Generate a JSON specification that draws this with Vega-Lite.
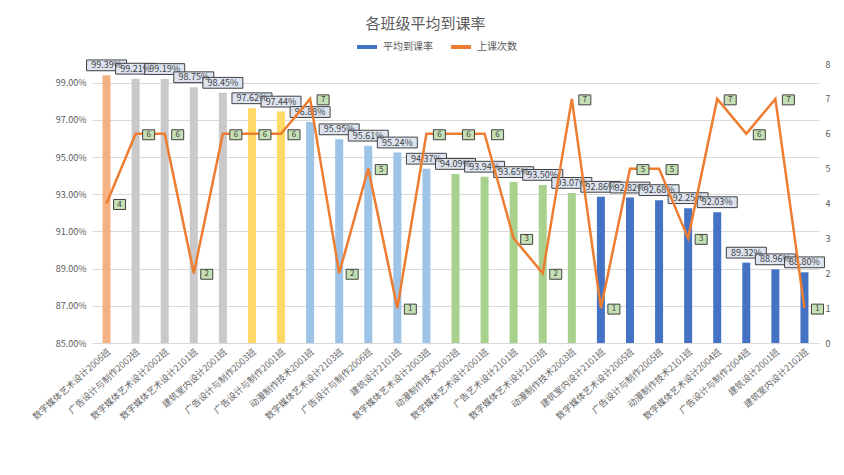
{
  "$schema": "https://vega.github.io/schema/vega-lite/v6.json",
  "autosize": {"type": "none"},
  "width": 727,
  "height": 279,
  "padding": {"left": 92, "top": 64, "right": 25, "bottom": 132},
  "background": "#ffffff",
  "title": {"text": "各班级平均到课率", "fontSize": 15, "fontWeight": "normal", "color": "#595959", "font": "Noto Sans CJK SC", "anchor": "middle", "dx": -30, "offset": 26, "dy": 23},
  "config": {
    "font": "Noto Sans CJK SC",
    "view": {"stroke": null},
    "axis": {"labelFont": "Noto Sans CJK SC", "labelColor": "#595959", "labelFontSize": 9, "ticks": false, "title": null},
    "legend": {"labelFont": "Noto Sans CJK SC", "labelColor": "#595959", "labelFontSize": 10}
  },
  "data": {"values": [
    {"班级": "数字媒体艺术设计2006班", "到课率": 0.9939, "上课次数": 4, "组": "A"},
    {"班级": "广告设计与制作2002班", "到课率": 0.9921, "上课次数": 6, "组": "B"},
    {"班级": "数字媒体艺术设计2002班", "到课率": 0.9919, "上课次数": 6, "组": "B"},
    {"班级": "数字媒体艺术设计2101班", "到课率": 0.9875, "上课次数": 2, "组": "B"},
    {"班级": "建筑室内设计2001班", "到课率": 0.9845, "上课次数": 6, "组": "B"},
    {"班级": "广告设计与制作2003班", "到课率": 0.9762, "上课次数": 6, "组": "C"},
    {"班级": "广告设计与制作2001班", "到课率": 0.9744, "上课次数": 6, "组": "C"},
    {"班级": "动漫制作技术2001班", "到课率": 0.9688, "上课次数": 7, "组": "D"},
    {"班级": "数字媒体艺术设计2103班", "到课率": 0.9595, "上课次数": 2, "组": "D"},
    {"班级": "广告设计与制作2006班", "到课率": 0.9561, "上课次数": 5, "组": "D"},
    {"班级": "建筑设计2101班", "到课率": 0.9524, "上课次数": 1, "组": "D"},
    {"班级": "数字媒体艺术设计2003班", "到课率": 0.9437, "上课次数": 6, "组": "D"},
    {"班级": "动漫制作技术2002班", "到课率": 0.9409, "上课次数": 6, "组": "E"},
    {"班级": "数字媒体艺术设计2001班", "到课率": 0.9394, "上课次数": 6, "组": "E"},
    {"班级": "广告艺术设计2101班", "到课率": 0.9365, "上课次数": 3, "组": "E"},
    {"班级": "数字媒体艺术设计2102班", "到课率": 0.9350, "上课次数": 2, "组": "E"},
    {"班级": "动漫制作技术2003班", "到课率": 0.9307, "上课次数": 7, "组": "E"},
    {"班级": "建筑室内设计2101班", "到课率": 0.9286, "上课次数": 1, "组": "F"},
    {"班级": "数字媒体艺术设计2005班", "到课率": 0.9282, "上课次数": 5, "组": "F"},
    {"班级": "广告设计与制作2005班", "到课率": 0.9268, "上课次数": 5, "组": "F"},
    {"班级": "动漫制作技术2101班", "到课率": 0.9225, "上课次数": 3, "组": "F"},
    {"班级": "数字媒体艺术设计2004班", "到课率": 0.9203, "上课次数": 7, "组": "F"},
    {"班级": "广告设计与制作2004班", "到课率": 0.8932, "上课次数": 6, "组": "F"},
    {"班级": "建筑设计2001班", "到课率": 0.8896, "上课次数": 7, "组": "F"},
    {"班级": "建筑室内设计2102班", "到课率": 0.8880, "上课次数": 1, "组": "F"}
  ]},
  "encoding": {
    "x": {"field": "班级", "type": "nominal", "sort": null,
      "scale": {"paddingInner": 0.7, "paddingOuter": 0.35},
      "axis": {"labelAngle": -42, "domainColor": "#d9d9d9", "labelPadding": 4, "grid": false, "labelFontSize": 9, "labelColor": "#666666"}}
  },
  "layer": [
    {
      "encoding": {
        "y": {"field": "到课率", "type": "quantitative",
          "scale": {"domain": [0.85, 1.0], "zero": false, "nice": false},
          "axis": {"values": [0.85, 0.87, 0.89, 0.91, 0.93, 0.95, 0.97, 0.99], "format": ".2%", "grid": true, "gridColor": "#d9d9d9", "domain": false, "labelPadding": 6}}
      },
      "layer": [
        {"mark": {"type": "bar", "size": 8},
         "encoding": {
           "y2": {"datum": 0.85},
           "color": {"field": "组", "type": "nominal", "legend": null,
             "scale": {"domain": ["A", "B", "C", "D", "E", "F"], "range": ["#F4B183", "#C9C9C9", "#FFD966", "#9DC3E6", "#A9D18E", "#4472C4"]}}
         }},
        {"mark": {"type": "point", "shape": "M-1,-0.27H1V0.27H-1Z", "size": 1600, "filled": true, "fill": "#DDE4F0", "stroke": "#404040", "strokeWidth": 1, "opacity": 1, "yOffset": -10}},
        {"mark": {"type": "text", "fontSize": 9, "color": "#404040", "yOffset": -10, "baseline": "middle"},
         "encoding": {"text": {"field": "到课率", "type": "quantitative", "format": ".2%"}}}
      ]
    },
    {
      "encoding": {
        "y": {"field": "上课次数", "type": "quantitative",
          "scale": {"domain": [0, 8], "nice": false},
          "axis": {"orient": "right", "values": [0, 1, 2, 3, 4, 5, 6, 7, 8], "grid": false, "domain": false, "labelPadding": 6}}
      },
      "layer": [
        {"mark": {"type": "line", "strokeWidth": 2.5},
         "encoding": {
           "color": {"datum": "上课次数",
             "scale": {"domain": ["平均到课率", "上课次数"], "range": ["#4472C4", "#ED7D31"]},
             "legend": {"title": null, "orient": "none", "legendX": 263, "legendY": -29, "direction": "horizontal", "symbolType": "stroke", "symbolStrokeWidth": 4, "symbolSize": 400, "labelFontSize": 10}}
         }},
        {"mark": {"type": "point", "shape": "M-1,-0.83H1V0.83H-1Z", "size": 144, "filled": true, "fill": "#C5E0B4", "stroke": "#404040", "strokeWidth": 1, "opacity": 1, "xOffset": 13, "yOffset": 1}},
        {"mark": {"type": "text", "fontSize": 8, "color": "#404040", "xOffset": 13, "yOffset": 1, "baseline": "middle"},
         "encoding": {"text": {"field": "上课次数", "type": "quantitative"}}}
      ]
    }
  ],
  "resolve": {"scale": {"y": "independent", "color": "independent"}}
}
